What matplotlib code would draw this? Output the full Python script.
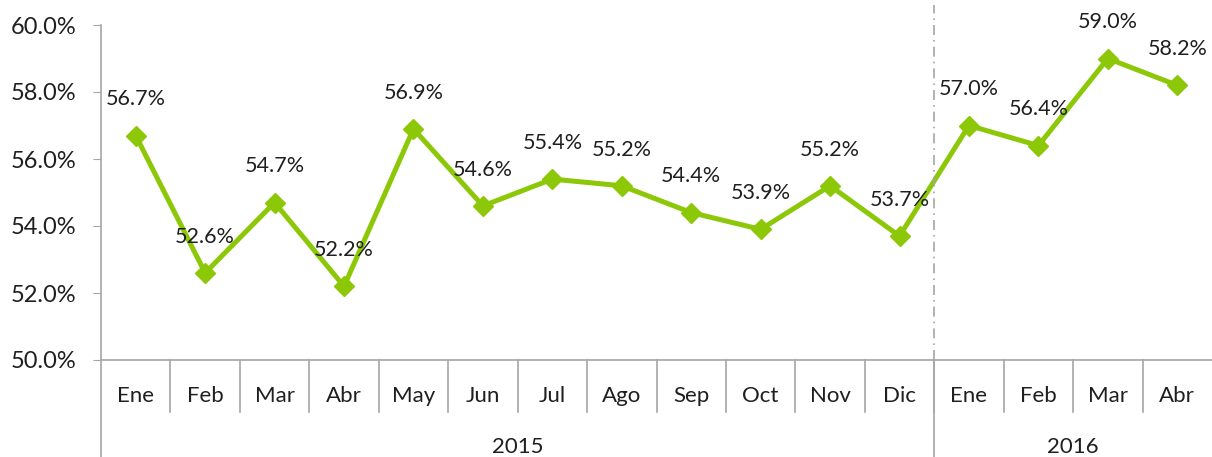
import matplotlib.pyplot as plt
from matplotlib.transforms import blended_transform_factory

months = ["Ene", "Feb", "Mar", "Abr", "May", "Jun", "Jul", "Ago", "Sep", "Oct", "Nov", "Dic",
          "Ene", "Feb", "Mar", "Abr"]
years = ["2015", "2016"]
months_per_year = [12, 4]
values = [56.7, 52.6, 54.7, 52.2, 56.9, 54.6, 55.4, 55.2, 54.4, 53.9, 55.2, 53.7,
          57.0, 56.4, 59.0, 58.2]
y_ticks = [50, 52, 54, 56, 58, 60]

plt.rcParams['font.family'] = ['Lato', 'DejaVu Sans']
green = '#8DC808'
grey = '#A6A6A6'
text_col = '#1F1F1F'

fig = plt.figure(figsize=(12.12, 4.57), dpi=100)
ax = fig.add_axes([101 / 1212, 1 - 360 / 457, 1 - 101 / 1212, 335 / 457])

x = list(range(len(values)))
ax.plot(x, values, color=green, lw=3.6, marker='D', ms=10.5, solid_joinstyle='miter')
for xi, v in zip(x, values):
    ax.annotate(f"{v:.1f}%", (xi, v), xytext=(0, 26), textcoords='offset points',
                ha='center', va='center', fontsize=15.5, color=text_col)

ax.set_xlim(-0.5, len(values) - 0.5)
ax.set_ylim(50, 60)
ax.set_yticks(y_ticks)
ax.set_yticklabels([f"{t:.1f}%" for t in y_ticks], fontsize=17, color=text_col)
ax.tick_params(axis='y', length=6, color=grey, pad=12)
ax.set_xticks(x)
ax.set_xticklabels(months, fontsize=16, color=text_col)
ax.tick_params(axis='x', length=0, pad=19)

for s in ['top', 'right']:
    ax.spines[s].set_visible(False)
for s in ['left', 'bottom']:
    ax.spines[s].set_color(grey)
    ax.spines[s].set_linewidth(1.2)

# category axis: separators between months and years
tr = blended_transform_factory(ax.transData, ax.transAxes)
ax.plot([-0.5, -0.5], [0, -0.87], color=grey, lw=1.2, transform=tr, clip_on=False)
for b in range(1, len(values)):
    ax.plot([b - 0.5, b - 0.5], [0, -0.155], color=grey, lw=1.2, transform=tr, clip_on=False)

start = 0
for yr, n in zip(years, months_per_year):
    ax.text(start + (n - 1) / 2, -0.26, yr, transform=tr, ha='center', va='center',
            fontsize=16, color=text_col)
    start += n
    if start < len(values):
        ax.plot([start - 0.5, start - 0.5], [0, -0.87], color=grey, lw=1.2,
                transform=tr, clip_on=False)
        ax.plot([start - 0.5, start - 0.5], [0, 1.06], color=grey, lw=1.2,
                ls=(0, (6, 3, 1, 3)), transform=tr, clip_on=False)

fig.savefig("out.png", dpi=100)
